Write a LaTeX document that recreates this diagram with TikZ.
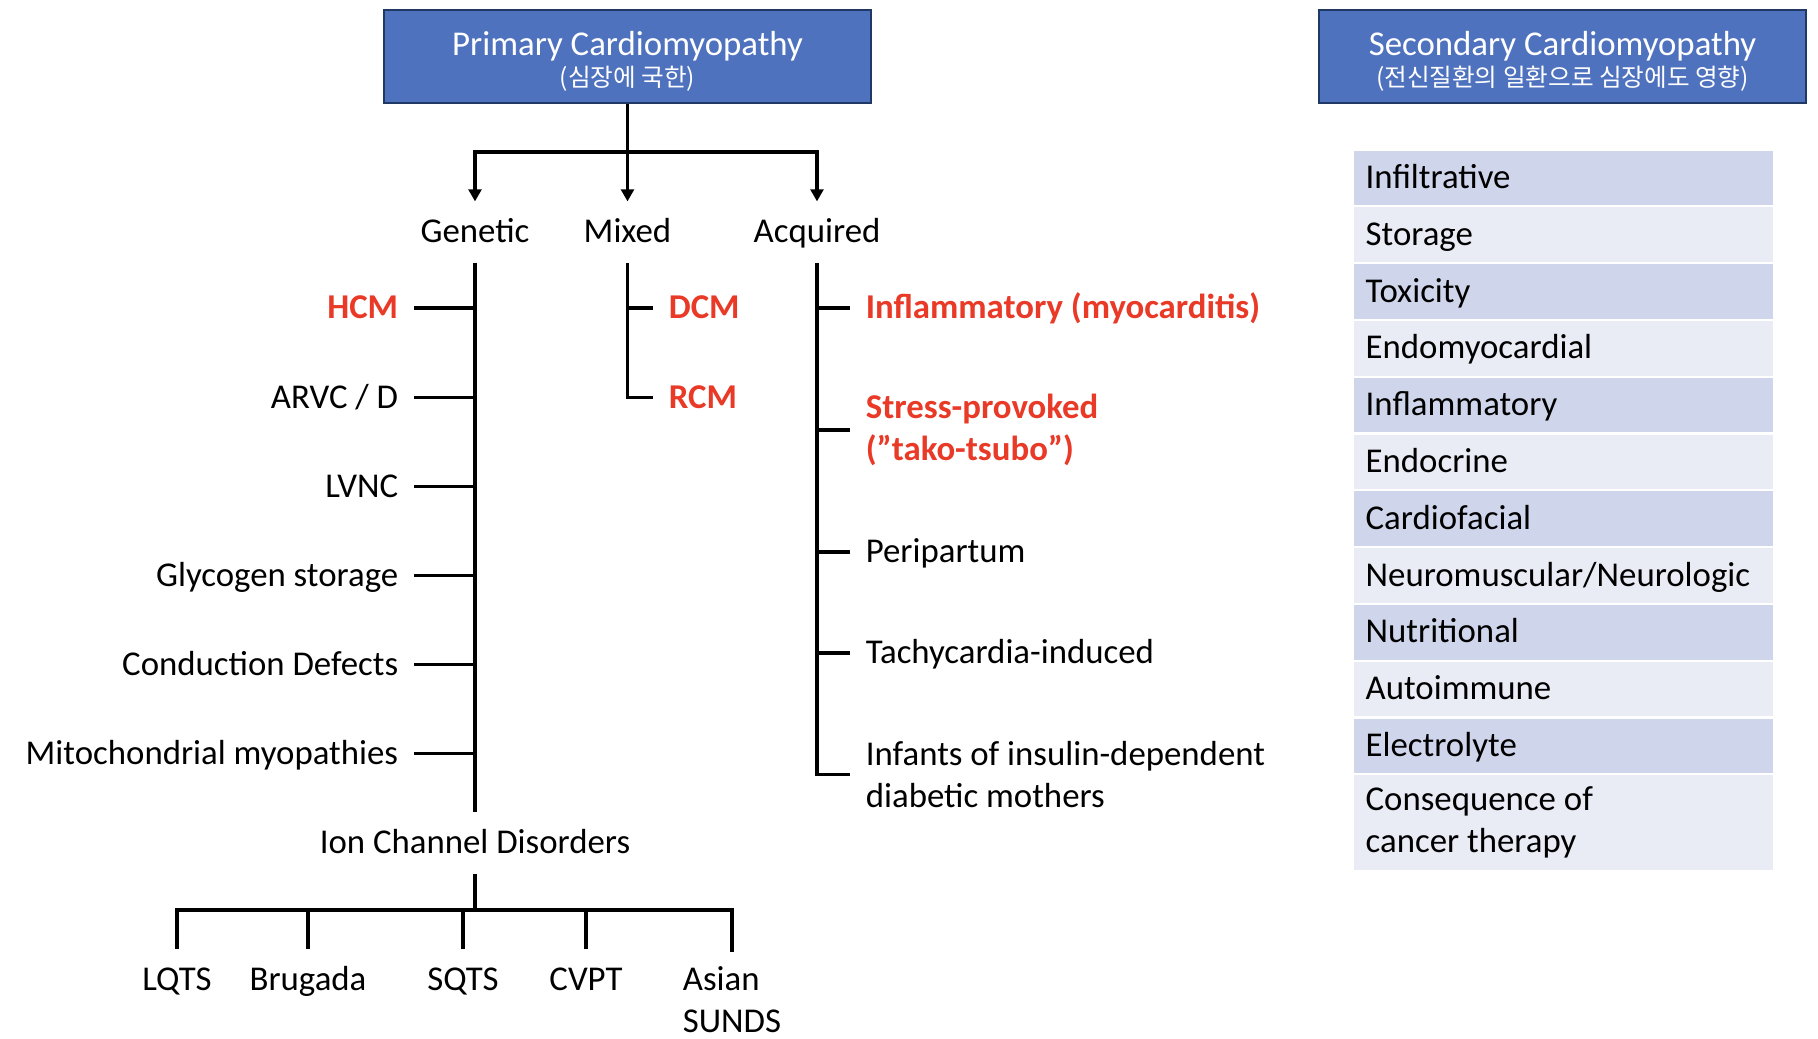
\documentclass[tikz,border=0pt]{standalone}
\usepackage{fontspec}
\setmainfont{Carlito}
\newfontfamily\kofont{Noto Sans CJK KR}
\usetikzlibrary{arrows.meta}
\definecolor{boxBlue}{RGB}{79,114,190}
\definecolor{boxEdge}{RGB}{31,56,100}
\definecolor{textRed}{RGB}{233,57,39}
\definecolor{rowDark}{RGB}{207,213,234}
\definecolor{rowLight}{RGB}{233,235,245}

\begin{document}
\begin{tikzpicture}[
    x=0.01cm, y=-0.01cm,
    conn/.style={line width=1.1pt, black},
    arr/.style={conn, -{Triangle[width=3.6pt, length=3.4pt]}},
    head/.style={draw=boxEdge, line width=0.7pt, fill=boxBlue, text=white, align=center,
        minimum width=4.87cm, minimum height=0.93cm, inner sep=0pt,
        font=\fontsize{9.9}{11.9}\selectfont},
    item/.style={font=\fontsize{9.9}{11.9}\selectfont, text height=7.5pt, text depth=1.5pt,
        inner xsep=4.3pt, inner ysep=4pt},
    cat/.style={item},
    item2/.style={font=\fontsize{9.9}{11.9}\selectfont, align=left, inner xsep=4.3pt, inner ysep=4pt},
    hot/.style={text=textRed, font=\fontsize{9.9}{11.9}\selectfont\bfseries},
    cell/.style={draw=white, line width=0.6pt, anchor=north west, text width=3.958cm,
        inner xsep=0.126cm, inner ysep=0pt, align=flush left, font=\fontsize{9.9}{11.9}\selectfont},
    line1/.style={minimum height=0.567cm, text height=7.5pt, text depth=1.5pt}
]
    \useasboundingbox (0,0) rectangle (1818,1038);

    % --- HEADERS ---
    \node[head] (prim) at (627.5, 56.5) {\rule{0pt}{9.6pt}Primary Cardiomyopathy\\[-3.2pt]{\kofont\fontsize{7}{8.4}\selectfont (심장에 국한)}};
    \node[head] (sec) at (1562.5, 56.5) {\rule{0pt}{9.6pt}Secondary Cardiomyopathy\\[-3.2pt]{\kofont\fontsize{7}{8.4}\selectfont (전신질환의 일환으로 심장에도 영향)}};

    % --- PRIMARY: THREE GROUPS ---
    \node[cat] (gen) at (475, 232) {Genetic};
    \node[cat] (mix) at (627.5, 232) {Mixed};
    \node[cat] (acq) at (817, 232) {Acquired};
    \coordinate (split) at (627.5, 152);
    \draw[arr] (prim) -- (mix);
    \draw[arr] (split) -| (gen);
    \draw[arr] (split) -| (acq);

    % --- GENETIC ---
    \node[item, hot, anchor=east] (hcm) at (414, 308) {HCM};
    \node[item, anchor=east] (arvc) at (414, 397.5) {ARVC / D};
    \node[item, anchor=east] (lvnc) at (414, 486.5) {LVNC};
    \node[item, anchor=east] (glyc) at (414, 575.5) {Glycogen storage};
    \node[item, anchor=east] (cond) at (414, 664.5) {Conduction Defects};
    \node[item, anchor=east] (mito) at (414, 753.5) {Mitochondrial myopathies};
    \node[cat] (ion) at (475, 843) {Ion Channel Disorders};
    \draw[conn] (gen) -- (ion);
    \foreach \n in {hcm, arvc, lvnc, glyc, cond, mito} {
        \draw[conn] (\n.east) -- (\n.east -| gen.south);
    }

    % --- ION CHANNEL DISORDERS ---
    \node[cat] (lqts) at (177, 980) {LQTS};
    \node[cat] (brug) at (308, 980) {Brugada};
    \node[cat] (sqts) at (463, 980) {SQTS};
    \node[cat] (cvpt) at (586, 980) {CVPT};
    \node[item2, anchor=north] (sunds) at (732, 952) {Asian\\SUNDS};
    \coordinate (ionbar) at (475, 910);
    \draw[conn] (ion) -- (ionbar);
    \draw[conn] (lqts) |- (ionbar) -| (sunds);
    \foreach \n in {brug, sqts, cvpt} {
        \draw[conn] (\n) -- (\n |- ionbar);
    }

    % --- MIXED ---
    \node[item, hot, anchor=west] (dcm) at (653, 308) {DCM};
    \node[item, hot, anchor=west] (rcm) at (653, 397.5) {RCM};
    \draw[conn] (mix) |- (rcm);
    \draw[conn] (dcm.west) -- (dcm.west -| mix.south);

    % --- ACQUIRED ---
    \node[item, hot, anchor=west] (infl) at (850, 308) {Inflammatory (myocarditis)};
    \node[item2, hot, anchor=west] (stress) at (850, 430) {Stress-provoked\\(”tako-tsubo”)};
    \node[item, anchor=west] (peri) at (850, 552) {Peripartum};
    \node[item, anchor=west] (tachy) at (850, 653) {Tachycardia-induced};
    \node[item2, anchor=west] (infant) at (850, 774.5) {Infants of insulin-dependent\\diabetic mothers};
    \draw[conn] (acq) |- (infant);
    \foreach \n in {infl, stress, peri, tachy} {
        \draw[conn] (\n.west) -- (\n.west -| acq.south);
    }

    % --- SECONDARY: TABLE ---
    \foreach \txt [count=\i from 0] in {Infiltrative, Storage, Toxicity, Endomyocardial,
        Inflammatory, Endocrine, Cardiofacial, Neuromuscular/Neurologic,
        Nutritional, Autoimmune, Electrolyte} {
        \ifodd\i \def\rowfill{rowLight}\else\def\rowfill{rowDark}\fi
        \node[cell, line1, fill=\rowfill] (row\i) at (1352, {148.5 + 56.8*\i}) {\txt};
    }
    \node[cell, fill=rowLight, minimum height=0.964cm] (row11) at (1352, 773.3) {Consequence of\\cancer therapy};

\end{tikzpicture}
\end{document}
